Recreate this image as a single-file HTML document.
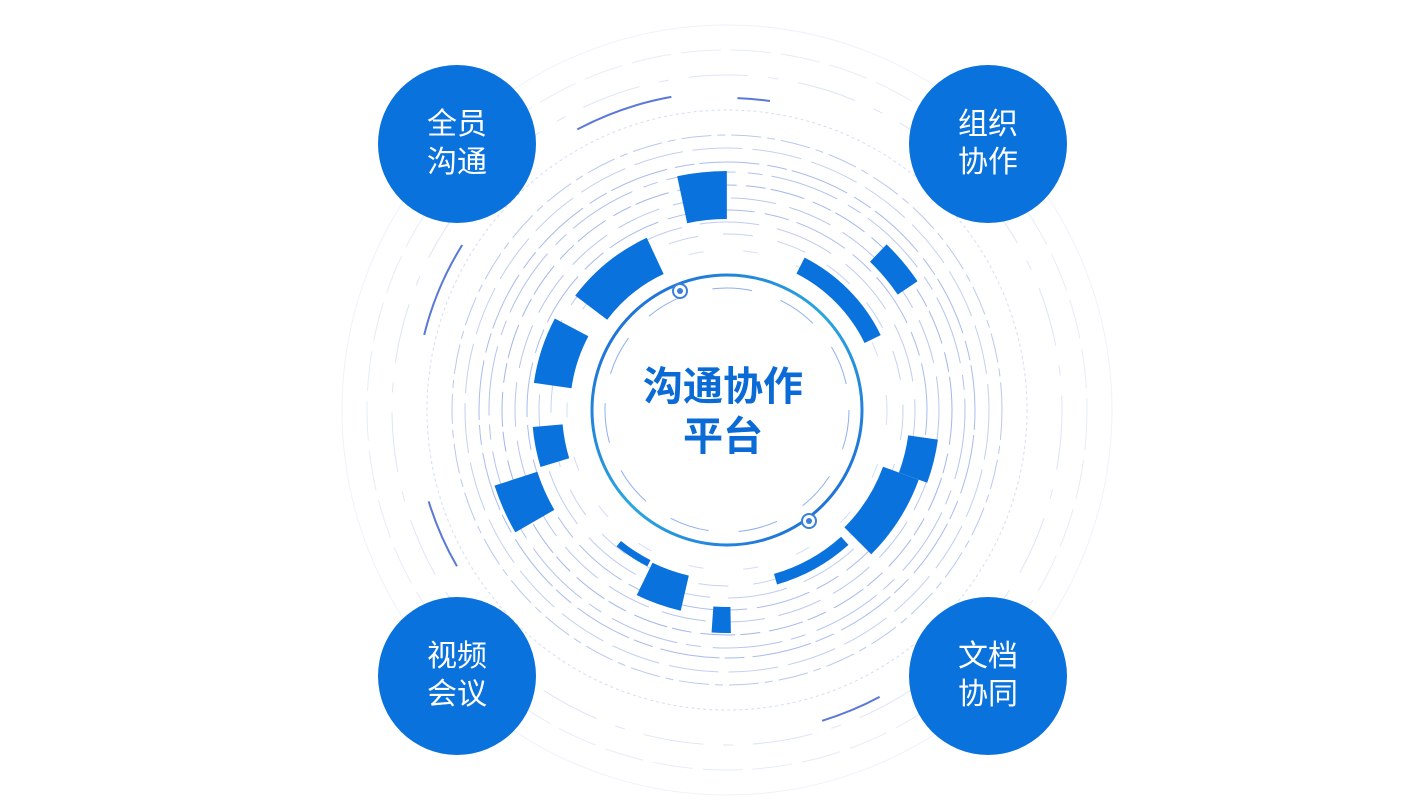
<!DOCTYPE html>
<html><head><meta charset="utf-8">
<style>
html,body{margin:0;padding:0;background:#fff;width:1425px;height:808px;overflow:hidden;}
body{position:relative;font-family:"Liberation Sans","Noto Sans CJK SC",sans-serif;}
.c{position:absolute;width:158px;height:158px;border-radius:50%;background:#0a72dc;color:#fff;font-size:30px;line-height:38px;text-align:center;display:flex;align-items:center;justify-content:center;}
.t{position:absolute;left:623px;top:362px;width:200px;text-align:center;color:#0a6ad6;font-weight:bold;font-size:40px;line-height:50px;}
svg{position:absolute;left:0;top:0;display:block;}
</style></head><body>
<svg width="1425" height="808" viewBox="0 0 1425 808">
<defs>
<linearGradient id="g" x1="0" y1="0" x2="1" y2="1">
<stop offset="0" stop-color="#1a5fd6"/><stop offset="0.5" stop-color="#2aa7e0"/><stop offset="1" stop-color="#1a5fd6"/>
</linearGradient>
</defs>
<g fill="none" stroke="#c9d6f2" stroke-width="1">
<circle cx="727" cy="410" r="385" stroke="#eef2fb"/>
<circle cx="727" cy="410" r="360" stroke="#e6ecf9" stroke-dasharray="40 10"/>
<circle cx="727" cy="410" r="335" stroke="#dde5f7" stroke-dasharray="60 20 10 20"/>
<circle cx="727" cy="410" r="300" stroke="#d3ddf5" stroke-dasharray="3 3"/>
<circle cx="727" cy="410" r="275" stroke="#b9c8ef" stroke-dasharray="30 6 8 6"/>
<circle cx="727" cy="410" r="262" stroke="#c3d0f1" stroke-dasharray="50 10"/>
<circle cx="727" cy="410" r="248" stroke="#a9bcec" stroke-dasharray="20 5 60 8"/>
<circle cx="727" cy="410" r="238" stroke="#b4c4ee" stroke-dasharray="70 12 15 9"/>
<circle cx="727" cy="410" r="225" stroke="#a3b6ea" stroke-dasharray="35 9 20 5"/>
<circle cx="727" cy="410" r="212" stroke="#b8c7ef" stroke-dasharray="45 14"/>
<circle cx="727" cy="410" r="200" stroke="#aabcec" stroke-dasharray="25 8 55 10"/>
<circle cx="727" cy="410" r="188" stroke="#bfcdf0" stroke-dasharray="60 18"/>
<circle cx="727" cy="410" r="176" stroke="#c6d3f2" stroke-dasharray="30 25"/>
<circle cx="727" cy="410" r="160" stroke="#d5def5" stroke-dasharray="15 40"/>
</g>
<g fill="none" stroke="#0a72dc">
<circle cx="727" cy="410" r="215" stroke-width="48" pathLength="360" stroke-dasharray="12 348" stroke-dashoffset="102"/>
<circle cx="727" cy="410" r="170" stroke-width="40" pathLength="360" stroke-dasharray="28 332" stroke-dashoffset="143"/>
<circle cx="727" cy="410" r="176" stroke-width="38" pathLength="360" stroke-dasharray="20 340" stroke-dashoffset="172"/>
<circle cx="727" cy="410" r="180" stroke-width="30" pathLength="360" stroke-dasharray="12 348" stroke-dashoffset="197"/>
<circle cx="727" cy="410" r="222" stroke-width="45" pathLength="360" stroke-dasharray="12 348" stroke-dashoffset="210"/>
<circle cx="727" cy="410" r="188" stroke-width="36" pathLength="360" stroke-dasharray="13 347" stroke-dashoffset="257"/>
<circle cx="727" cy="410" r="210" stroke-width="26" pathLength="360" stroke-dasharray="5 355" stroke-dashoffset="271"/>
<circle cx="727" cy="410" r="162" stroke-width="18" pathLength="360" stroke-dasharray="37 323" stroke-dashoffset="63"/>
<circle cx="727" cy="410" r="218" stroke-width="24" pathLength="360" stroke-dasharray="12 348" stroke-dashoffset="46"/>
<circle cx="727" cy="410" r="198" stroke-width="30" pathLength="360" stroke-dasharray="12 348" stroke-dashoffset="352"/>
<circle cx="727" cy="410" r="185" stroke-width="38" pathLength="360" stroke-dasharray="25 335" stroke-dashoffset="340"/>
<circle cx="727" cy="410" r="176" stroke-width="11" pathLength="360" stroke-dasharray="26 334" stroke-dashoffset="312"/>
<circle cx="727" cy="410" r="172" stroke-width="7" pathLength="360" stroke-dasharray="12 348" stroke-dashoffset="243"/>
</g>
<g fill="none" stroke="#5a78d8" stroke-width="2">
<circle cx="727" cy="410" r="318" pathLength="360" stroke-dasharray="18 342" stroke-dashoffset="118"/>
<circle cx="727" cy="410" r="312" pathLength="360" stroke-dasharray="18 342" stroke-dashoffset="166"/>
<circle cx="727" cy="410" r="312" pathLength="360" stroke-dasharray="13 347" stroke-dashoffset="210"/>
<circle cx="727" cy="410" r="325" pathLength="360" stroke-dasharray="11 349" stroke-dashoffset="298"/>
<circle cx="727" cy="410" r="312" pathLength="360" stroke-dasharray="6 354" stroke-dashoffset="88"/>
</g>
<circle cx="727" cy="410" r="135" fill="none" stroke="url(#g)" stroke-width="3"/>
<circle cx="727" cy="410" r="122" fill="none" stroke="#8fb0ee" stroke-width="1" stroke-dasharray="40 30"/>
<circle cx="680" cy="291" r="7" fill="#fff" stroke="#3a7fd8" stroke-width="2"/>
<circle cx="680" cy="291" r="3" fill="#3a7fd8"/>
<circle cx="809" cy="521" r="7" fill="#fff" stroke="#3a7fd8" stroke-width="2"/>
<circle cx="809" cy="521" r="3" fill="#3a7fd8"/>
</svg>
<div class="t">沟通协作<br>平台</div>
<div class="c" style="left:378px;top:65px">全员<br>沟通</div>
<div class="c" style="left:909px;top:65px">组织<br>协作</div>
<div class="c" style="left:378px;top:597px">视频<br>会议</div>
<div class="c" style="left:909px;top:597px">文档<br>协同</div>
</body></html>
